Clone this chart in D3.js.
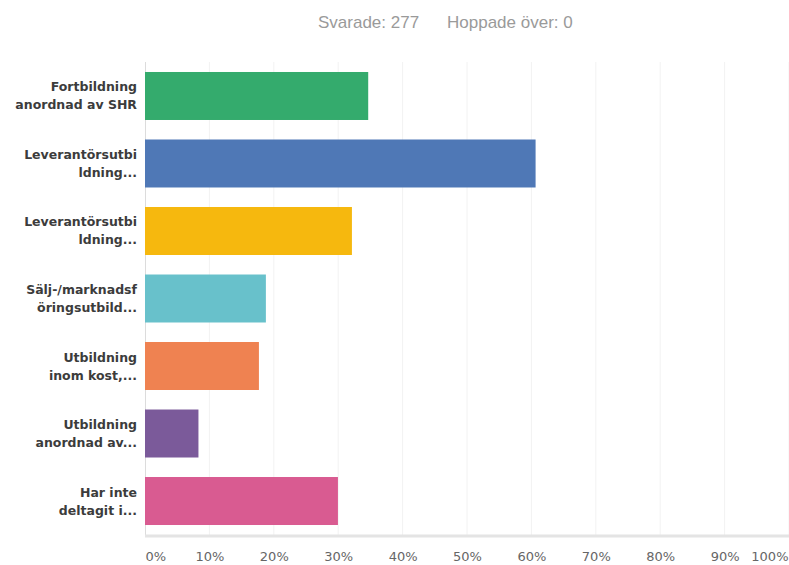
<!DOCTYPE html>
<html>
<head>
<meta charset="utf-8">
<script src="https://cdn.jsdelivr.net/npm/d3@7"></script>
<style>
html,body{margin:0;padding:0;background:#fff;}
svg{display:block;}
</style>
</head>
<body>
<svg id="chart" width="789" height="565"></svg>
<script>
const categories = [
  ["Fortbildning", "anordnad av SHR"],
  ["Leverantörsutbi", "ldning..."],
  ["Leverantörsutbi", "ldning..."],
  ["Sälj-/marknadsf", "öringsutbild..."],
  ["Utbildning", "inom kost,..."],
  ["Utbildning", "anordnad av..."],
  ["Har inte", "deltagit i..."]
];
const values = [34.66, 60.65, 32.13, 18.77, 17.69, 8.30, 29.96];
const colors = ["#34ab6d", "#4f78b6", "#f6b80e", "#68c1cb", "#ef8251", "#7b5a9a", "#d95b91"];
const tickValues = [0, 10, 20, 30, 40, 50, 60, 70, 80, 90, 100];
const tickLabels = ["0%", "10%", "20%", "30%", "40%", "50%", "60%", "70%", "80%", "90%", "100%"];
const headerTexts = ["Svarade: 277", "Hoppade över: 0"];

const svg = d3.select("#chart");
const mLeft = 145, mRight = 789, mTop = 62, mBottom = 535;

const x = d3.scaleLinear().domain([0, 100]).range([mLeft, mRight]);
const y = d3.scaleBand().domain(d3.range(categories.length)).range([mTop, mBottom])
  .paddingInner(0.289).paddingOuter(0.148);

// header
svg.append("text").attr("x", 318).attr("y", 28).attr("fill", "#9a9a9a")
  .attr("font-family", "Liberation Sans, Arial, sans-serif").attr("font-size", 17)
  .text(headerTexts[0]);
svg.append("text").attr("x", 447).attr("y", 28).attr("fill", "#9a9a9a")
  .attr("font-family", "Liberation Sans, Arial, sans-serif").attr("font-size", 17)
  .text(headerTexts[1]);

// gridlines
svg.append("g").selectAll("line").data(tickValues.slice(1)).join("line")
  .attr("x1", d => x(d)).attr("x2", d => x(d))
  .attr("y1", mTop).attr("y2", mBottom)
  .attr("stroke", "#f2f2f2").attr("stroke-width", 1);

// vertical axis line
svg.append("line").attr("x1", x(0) + 0.5).attr("x2", x(0) + 0.5)
  .attr("y1", mTop).attr("y2", mBottom).attr("stroke", "#dcdcdc");

// bars
svg.append("g").selectAll("rect").data(values).join("rect")
  .attr("x", x(0)).attr("y", (d, i) => y(i))
  .attr("width", d => x(d) - x(0)).attr("height", y.bandwidth())
  .attr("fill", (d, i) => colors[i]);

// baseline
svg.append("line").attr("x1", x(0)).attr("x2", mRight)
  .attr("y1", mBottom + 1).attr("y2", mBottom + 1)
  .attr("stroke", "#e4e4e4").attr("stroke-width", 3);

// category labels
const lab = svg.append("g").selectAll("text").data(categories).join("text")
  .attr("text-anchor", "end")
  .attr("font-family", "DejaVu Sans, Verdana, sans-serif")
  .attr("font-size", 12.5).attr("font-weight", "bold").attr("fill", "#3c3c3c");
lab.each(function(d, i) {
  const cy = y(i) + y.bandwidth() / 2;
  d3.select(this).selectAll("tspan").data(d).join("tspan")
    .attr("x", 137).attr("y", (t, j) => cy + (j === 0 ? -9 : 9) + 4.5)
    .text(t => t);
});

// x axis tick labels
const xAxis = d3.axisBottom(x).tickValues(tickValues)
  .tickFormat((d, i) => tickLabels[i]).tickSize(0).tickPadding(0);
const ax = svg.append("g").attr("transform", `translate(0,${mBottom})`).call(xAxis);
ax.select(".domain").remove();
ax.selectAll("text")
  .attr("dy", null).attr("y", 26)
  .attr("font-family", "DejaVu Sans, Verdana, sans-serif")
  .attr("font-size", 13).attr("fill", "#666")
  .attr("text-anchor", d => d === 0 ? "start" : (d === 100 ? "end" : "middle"))
  .attr("dx", d => d === 100 ? -1 : 0);
</script>
</body>
</html>
